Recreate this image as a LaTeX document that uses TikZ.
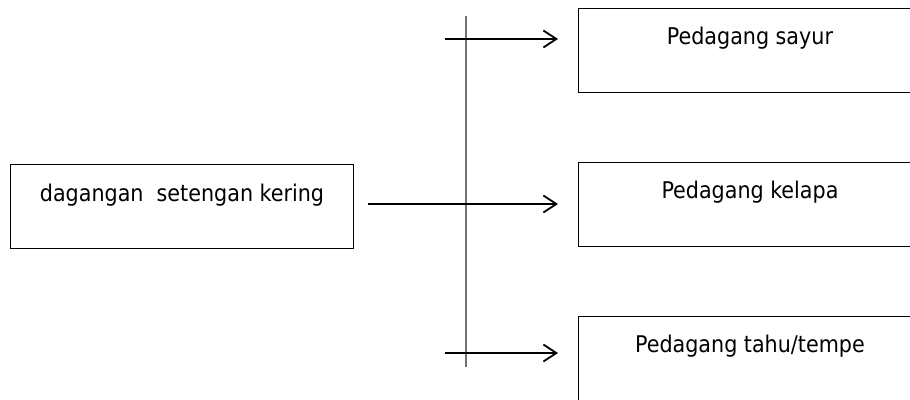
\documentclass[tikz,border=0pt]{standalone}
\usepackage{fontspec}
\setmainfont{DejaVu Sans Condensed}
\usetikzlibrary{arrows.meta,calc}
\begin{document}
\begin{tikzpicture}[x=1pt,y=-1pt,
  box/.style={draw=black,line width=1.1pt,minimum width=360pt,minimum height=84pt,inner sep=0pt,anchor=north west},
  lbl/.style={font=\fontsize{23}{27}\selectfont,anchor=base,inner sep=0pt},
  arr/.style={line width=1.8pt,-{Straight Barb[length=13pt,width=17pt,line width=1.8pt]},shorten >=20pt},
  rail/.style={line width=1.3pt,draw=black!55}]
\useasboundingbox (0,0) rectangle (910,399);

% source box and the three traders
\node[box,minimum width=343pt] (src) at (10,164) {};
\node[box] (sayur)  at (578,8)   {};
\node[box] (kelapa) at (578,162) {};
\node[box,minimum height=100pt] (tahu) at (578,316) {};

% labels, centred on the visible part of each box
\node[lbl] (srcT)    at ($(src.north)+(0,37)$)     {dagangan\ \ setengan kering};
\node[lbl] (sayurT)  at ($(sayur.north west)+(172,36)$)  {Pedagang sayur};
\node[lbl] (kelapaT) at ($(kelapa.north west)+(172,36)$) {Pedagang kelapa};
\node[lbl] (tahuT)   at ($(tahu.north west)+(172,36)$)   {Pedagang tahu/tempe};

% vertical distribution rail
\coordinate (railTop) at (466,16);
\coordinate (railBot) at (466,367);
\draw[rail] (railTop) -- (railBot);

% arrow starts
\coordinate (a1) at (445,39);
\coordinate (a2) at (368,204);
\coordinate (a3) at (445,353);

\draw[arr] (a1) -- (a1 -| sayur.west);
\draw[arr] (a2) -- (a2 -| kelapa.west);
\draw[arr] (a3) -- (a3 -| tahu.west);
\end{tikzpicture}
\end{document}
